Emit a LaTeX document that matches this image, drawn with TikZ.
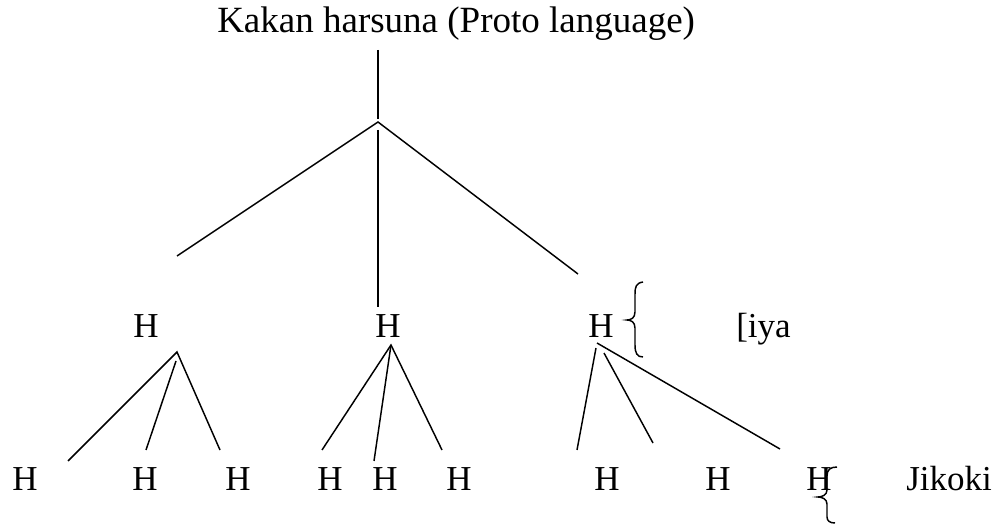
\documentclass[tikz,border=0pt]{standalone}
\usepackage{fontspec}
\setmainfont{Liberation Serif}
\begin{document}
\begin{tikzpicture}[x=0.75pt,y=-0.75pt,
  lbl/.style={inner sep=0pt,anchor=base,font=\fontsize{26.25}{30}\selectfont},
  lblw/.style={lbl,anchor=base west},
  ttl/.style={inner sep=0pt,anchor=base west,font=\fontsize{27.75}{32}\selectfont},
  edge/.style={line width=1.1pt,line cap=butt},
  bracepath/.style={line width=1.1pt}]
\useasboundingbox (0,0) rectangle (1001,524);
% texts
\node[ttl] (title) at (217,33) {Kakan harsuna (Proto language)};
\node[lbl] (m1) at (146,338) {H};
\node[lbl] (m2) at (388,338) {H};
\node[lbl] (m3) at (601,338) {H};
\node[lblw] (iya) at (736,338) {[iya};
\node[lbl] (b1) at (25,490) {H};
\node[lbl] (b2) at (145,490) {H};
\node[lbl] (b3) at (238,490) {H};
\node[lbl] (b4) at (330,490) {H};
\node[lbl] (b5) at (385,490) {H};
\node[lbl] (b6) at (459,490) {H};
\node[lbl] (b7) at (607,490) {H};
\node[lbl] (b8) at (718,490) {H};
\node[lbl] (b9) at (819,490) {H};
\node[lblw] (jik) at (906,490) {Jikoki};
% connector end points
\coordinate (r0) at (378,50);
\coordinate (r1) at (378,119);
\coordinate (ra) at (378,122);
\coordinate (rm) at (378,130);
\coordinate (rl) at (177,256);
\coordinate (rb) at (378,307);
\coordinate (rr) at (578,274);
\coordinate (a1) at (177,352);
\coordinate (a1b) at (176,361);
\coordinate (e11) at (68,461);
\coordinate (e12) at (146,450);
\coordinate (e13) at (220,450);
\coordinate (a2) at (391,345);
\coordinate (e21) at (322,450);
\coordinate (e22) at (374,461);
\coordinate (e23) at (442,450);
\coordinate (a3) at (597,343);
\coordinate (a3b) at (596,348);
\coordinate (a3c) at (604,353);
\coordinate (e31) at (577,450);
\coordinate (e32) at (653,443);
\coordinate (e33) at (780,449);
% connectors
\draw[edge] (r0) -- (r1);
\draw[edge] (rl) -- (ra) -- (rr);
\draw[edge] (rm) -- (rb);
\draw[edge] (e11) -- (a1) -- (e13);
\draw[edge] (a1b) -- (e12);
\draw[edge] (e21) -- (a2) -- (e23);
\draw[edge] (a2) -- (e22);
\draw[edge] (a3) -- (e33);
\draw[edge] (a3b) -- (e31);
\draw[edge] (a3c) -- (e32);
% braces
\draw[bracepath] (643,282) .. controls (636,283) and (635,287) .. (635,294) -- (635,312)
  .. controls (635,318) and (631,320) .. (627,320)
  .. controls (631,320) and (635,322) .. (635,328) -- (635,345)
  .. controls (635,353) and (637,357) .. (643,357);
\draw[bracepath] (837,467) .. controls (830,467) and (827,470) .. (827,476) -- (827,490)
  .. controls (827,495) and (822,497) .. (818,497)
  .. controls (822,497) and (827,499) .. (827,504) -- (827,517)
  .. controls (827,521) and (830,523) .. (835,523);
\end{tikzpicture}
\end{document}
